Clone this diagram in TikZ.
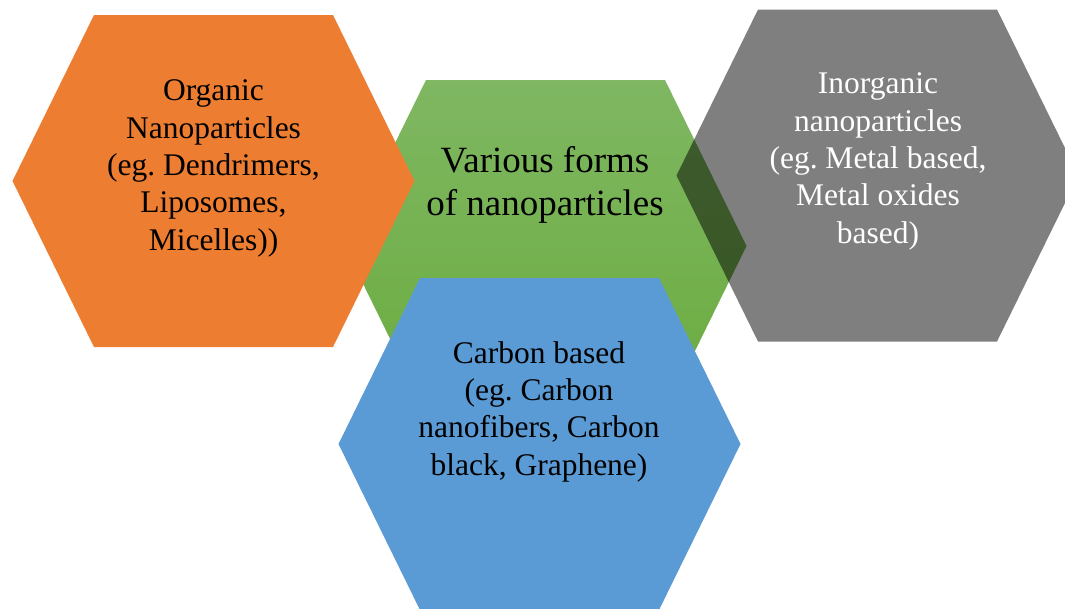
\documentclass[tikz,border=0pt]{standalone}
\usepackage{fontspec}
\setmainfont{Liberation Serif}
\frenchspacing
\definecolor{orgc}{HTML}{ED7D31}
\definecolor{bluec}{HTML}{5B9BD5}
\definecolor{greentop}{HTML}{7FB762}
\definecolor{greenbot}{HTML}{6BAC3F}
\newcommand{\hexat}[2]{(#1-201,#2) -- (#1-119.5,#2-166) -- (#1+119.5,#2-166) -- (#1+201,#2) -- (#1+119.5,#2+166) -- (#1-119.5,#2+166) -- cycle}
\tikzset{
  hexlabel/.style={align=center, inner sep=0pt, anchor=base, font=\fontsize{31.5}{37.3}\selectfont},
}
\begin{document}
\begin{tikzpicture}[x=1pt,y=-1pt]
\clip (0,0) rectangle (1065,608);
\fill[white] (0,0) rectangle (1065,608);
% green (bottom)
\shade[top color=greentop, bottom color=greenbot] \hexat{545.5}{246};
% orange
\fill[orgc] \hexat{213.5}{181};
% blue
\fill[bluec] \hexat{539.5}{444};
% gray, semi-transparent black
\fill[black, fill opacity=0.5] \hexat{877.5}{175.5};
% labels (anchor = baseline of last line)
\node[hexlabel] (org) at (213.5,250) {Organic\\Nanoparticles\\(eg. Dendrimers,\\Liposomes,\\Micelles))};
\node[hexlabel, font=\fontsize{37}{43}\selectfont] (var) at (545,215) {Various forms\\of nanoparticles};
\node[hexlabel, text=white] (inorg) at (878,243) {Inorganic\\nanoparticles\\(eg. Metal based,\\Metal oxides\\based)};
\node[hexlabel] (carb) at (539,475) {Carbon based\\(eg. Carbon\\nanofibers, Carbon\\black, Graphene)};
\end{tikzpicture}
\end{document}
